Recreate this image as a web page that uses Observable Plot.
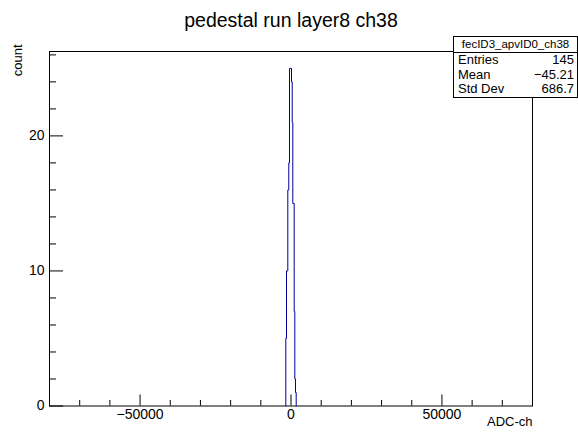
<!DOCTYPE html>
<html><head><meta charset="utf-8">
<script src="https://cdn.jsdelivr.net/npm/d3@7"></script>
<script src="https://cdn.jsdelivr.net/npm/@observablehq/plot@0.6"></script>
<style>
body{margin:0;background:#fff;font-family:"Liberation Sans",Arial,sans-serif}
#wrap{position:relative;width:578px;height:436px;overflow:hidden}
#stats{position:absolute;left:453px;top:36px;width:123px;border:1px solid #000;background:#fff;color:#000}
#stats .name{font-size:11.5px;text-align:center;height:15px;line-height:15px;border-bottom:1px solid #000}
#stats .row{display:flex;justify-content:space-between;font-size:13px;height:14.5px;line-height:14.5px;padding:0 3px 0 4px}
</style></head><body><div id="wrap"></div>
<script>
const title = "pedestal run layer8 ch38";
const xLabel = "ADC-ch";
const yLabel = "count";
const binEdges = [-1720, -1490, -1060, -730, -500, 170, 400, 600, 1060, 1260, 1490, 1720];
const counts = [5, 10, 16, 18, 25, 24, 21, 15, 7, 2, 1];
const xDomain = [-80000, 80000];
const yDomain = [0, 26.25];
const xMajorTicks = [-50000, 0, 50000];
const xMinorTicks = [-70000, -60000, -40000, -30000, -20000, -10000, 10000, 20000, 30000, 40000, 60000, 70000];
const yMajorTicks = [0, 10, 20];
const yMinorTicks = [2, 4, 6, 8, 12, 14, 16, 18, 22, 24, 26];
const statsName = "fecID3_apvID0_ch38";
const statsLabels = ["Entries", "Mean", "Std Dev"];
const statsValues = ["145", "\u221245.21", "686.7"];

const outline = [{x: binEdges[0], y: 0}];
counts.forEach((c, i) => outline.push({x: binEdges[i], y: c}));
outline.push({x: binEdges[binEdges.length - 1], y: 0});

const fmt = d3.format("d");
const font = "Liberation Sans, Arial, sans-serif";

const chart = Plot.plot({
  width: 578,
  height: 436,
  marginLeft: 49,
  marginRight: 46,
  marginTop: 51,
  marginBottom: 30.5,
  style: {fontFamily: font, background: "#fff", color: "#000"},
  x: {domain: xDomain, label: null},
  y: {domain: yDomain, label: null},
  marks: [
    Plot.frame({stroke: "#000"}),
    Plot.line(outline, {x: "x", y: "y", curve: "step-after", stroke: "#000099", strokeWidth: 1}),
    Plot.axisX(xMajorTicks, {tickSize: -11, tickPadding: 14, tickFormat: fmt, fontSize: 14, label: null}),
    Plot.axisX(xMinorTicks, {tickSize: -5.5, tickFormat: () => "", label: null}),
    Plot.axisY(yMajorTicks, {tickSize: -14, tickPadding: 19, tickFormat: fmt, fontSize: 14, label: null}),
    Plot.axisY(yMinorTicks, {tickSize: -7, tickFormat: () => "", label: null}),
    Plot.text([title], {frameAnchor: "top", dy: -38, fontSize: 19.5}),
    Plot.text([xLabel], {frameAnchor: "bottom-right", textAnchor: "end", dy: 20, fontSize: 13}),
    Plot.text([yLabel], {frameAnchor: "top-left", textAnchor: "end", rotate: -90, dx: -37, dy: -7, fontSize: 13})
  ]
});
const wrap = document.getElementById("wrap");
wrap.appendChild(chart);

const stats = document.createElement("div");
stats.id = "stats";
const nm = document.createElement("div");
nm.className = "name";
nm.textContent = statsName;
stats.appendChild(nm);
statsLabels.forEach((l, i) => {
  const r = document.createElement("div");
  r.className = "row";
  const a = document.createElement("span"); a.textContent = l;
  const b = document.createElement("span"); b.textContent = statsValues[i];
  r.appendChild(a); r.appendChild(b);
  stats.appendChild(r);
});
wrap.appendChild(stats);
</script></body></html>
